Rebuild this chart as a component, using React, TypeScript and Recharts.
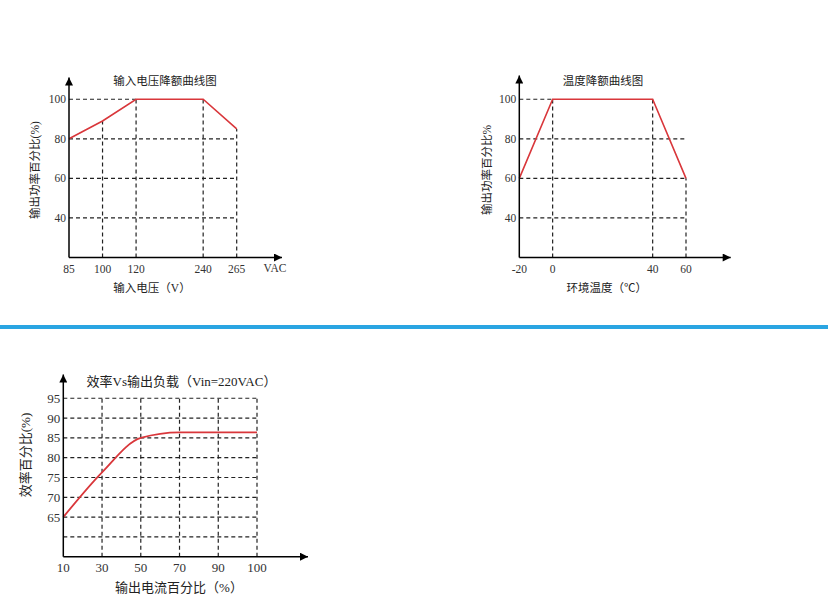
import React from "react";
import { LineChart, Line, XAxis, YAxis, ReferenceLine } from "recharts";

// input voltage derating (the axis is broken between 120 and 240)
const vinCats = ["85", "100", "120", "gap", "240", "265"];
const vinPower = [80, 89, 100, null, 100, 85];
const vinTicks = ["85", "100", "120", "240", "265"];

// ambient temperature derating (broken between 0 and 40)
const tempCats = ["-20", "0", "gap1", "gap2", "40", "60"];
const tempPower = [60, 100, null, null, 100, 60];
const tempTicks = ["-20", "0", "40", "60"];

const powerTicks = [40, 60, 80, 100];

// efficiency vs load, Vin = 220VAC
const loadCats = ["10", "30", "50", "70", "90", "100"];
const efficiency = [65, 76.3, 85, 86.4, 86.4, 86.4];
const effTicks = [65, 70, 75, 80, 85, 90, 95];
const effRows = [60, 65, 70, 75, 80, 85, 90, 95];

const FONT = "'Liberation Serif', 'Noto Sans CJK SC', serif";
const INK = "#222";
const RED = "#d9373b";
const DASH = "4 3";

function ArrowDefs({ id }: { id: string }) {
  return (
    <defs>
      <marker
        id={id}
        viewBox="0 0 10 10"
        refX="10"
        refY="5"
        markerWidth="9"
        markerHeight="8"
        markerUnits="userSpaceOnUse"
        orient="auto-start-reverse"
      >
        <path d="M0,0 L10,5 L0,10 z" fill="#000" />
      </marker>
    </defs>
  );
}

type DeratingProps = {
  id: string;
  left: number;
  top: number;
  cats: string[];
  vals: (number | null)[];
  xTicks: string[];
  yMax: number;
  margin: { top: number; right: number; bottom: number; left: number };
  padRight: number;
  title: string;
  titleX: number;
  xTitle: string;
  xTitleX: number;
  yTitle: string;
  yTitleX: number;
  unit?: string;
  unitX?: number;
};

function DeratingChart(p: DeratingProps) {
  const data = p.cats.map((c, i) => ({ x: c, y: p.vals[i] }));
  const real = data.filter((d) => d.y != null) as { x: string; y: number }[];
  const peak = Math.max(...real.map((d) => d.y));
  const rows = powerTicks.map((level) => ({
    level,
    end: level >= peak ? real.find((d) => d.y >= level)!.x : real[real.length - 1].x,
  }));
  const tickStyle = { fill: "#333", fontSize: 11.5, fontFamily: FONT };
  const axisLine = { stroke: "#000", strokeWidth: 1.5 };

  return (
    <div style={{ position: "absolute", left: p.left, top: p.top }}>
      <LineChart width={310} height={250} data={data} margin={p.margin}>
        <ArrowDefs id={p.id} />
        {rows.map((r) => (
          <ReferenceLine
            key={"h" + r.level}
            segment={[
              { x: real[0].x, y: r.level },
              { x: r.end, y: r.level },
            ]}
            stroke={INK}
            strokeWidth={1.2}
            strokeDasharray={DASH}
          />
        ))}
        {real.slice(1).map((d) => (
          <ReferenceLine
            key={"v" + d.x}
            segment={[
              { x: d.x, y: 20 },
              { x: d.x, y: d.y },
            ]}
            stroke={INK}
            strokeWidth={1.2}
            strokeDasharray={DASH}
          />
        ))}
        <XAxis
          dataKey="x"
          type="category"
          ticks={p.xTicks}
          interval={0}
          tickFormatter={(v) => (p.xTicks.includes(v) ? v : "")}
          padding={{ left: 0, right: p.padRight }}
          height={30}
          tickLine={false}
          tickSize={0}
          tickMargin={7}
          axisLine={{ ...axisLine, markerEnd: `url(#${p.id})` }}
          tick={tickStyle}
        />
        <YAxis
          type="number"
          domain={[20, p.yMax]}
          ticks={powerTicks}
          interval={0}
          allowDataOverflow
          width={40}
          tickLine={false}
          tickSize={0}
          tickMargin={3}
          axisLine={{ ...axisLine, markerStart: `url(#${p.id})` }}
          tick={tickStyle}
        />
        <Line
          type="linear"
          dataKey="y"
          stroke={RED}
          strokeWidth={1.6}
          dot={false}
          connectNulls
          isAnimationActive={false}
        />
        <text x={p.titleX} y={25} textAnchor="middle" fontSize={11.5} fill={INK} fontFamily={FONT}>
          {p.title}
        </text>
        <text x={p.xTitleX} y={231.5} textAnchor="middle" fontSize={11.5} fill={INK} fontFamily={FONT}>
          {p.xTitle}
        </text>
        <text
          x={p.yTitleX}
          y={110}
          textAnchor="middle"
          dominantBaseline="central"
          transform={`rotate(-90 ${p.yTitleX} 110)`}
          fontSize={11.5}
          fill={INK}
          fontFamily={FONT}
        >
          {p.yTitle}
        </text>
        {p.unit && (
          <text x={p.unitX} y={212} textAnchor="middle" fontSize={11.5} fill="#333" fontFamily={FONT}>
            {p.unit}
          </text>
        )}
      </LineChart>
    </div>
  );
}

function EfficiencyChart() {
  const data = loadCats.map((c, i) => ({ x: c, y: efficiency[i] }));
  const first = loadCats[0];
  const last = loadCats[loadCats.length - 1];
  const top = effRows[effRows.length - 1];
  const tickStyle = { fill: "#333", fontSize: 13, fontFamily: FONT };
  const axisLine = { stroke: "#000", strokeWidth: 1.5 };

  return (
    <div style={{ position: "absolute", left: 0, top: 340 }}>
      <LineChart
        width={330}
        height={270}
        data={data}
        margin={{ top: 34.5, right: 22, bottom: 23.3, left: 23.3 }}
      >
        <ArrowDefs id="arr3" />
        {effRows.map((r) => (
          <ReferenceLine
            key={"h" + r}
            segment={[
              { x: first, y: r },
              { x: last, y: r },
            ]}
            stroke={INK}
            strokeWidth={1.2}
            strokeDasharray={DASH}
          />
        ))}
        {loadCats.slice(1).map((c) => (
          <ReferenceLine
            key={"v" + c}
            segment={[
              { x: c, y: 55 },
              { x: c, y: top },
            ]}
            stroke={INK}
            strokeWidth={1.2}
            strokeDasharray={DASH}
          />
        ))}
        <XAxis
          dataKey="x"
          type="category"
          interval={0}
          padding={{ left: 0, right: 51 }}
          height={30}
          tickLine={false}
          tickSize={0}
          tickMargin={6}
          axisLine={{ ...axisLine, markerEnd: "url(#arr3)" }}
          tick={tickStyle}
        />
        <YAxis
          type="number"
          domain={[55, 101]}
          ticks={effTicks}
          interval={0}
          allowDataOverflow
          width={40}
          tickLine={false}
          tickSize={0}
          tickMargin={3}
          axisLine={{ ...axisLine, markerStart: "url(#arr3)" }}
          tick={tickStyle}
        />
        <Line
          type="monotone"
          dataKey="y"
          stroke={RED}
          strokeWidth={1.8}
          dot={false}
          isAnimationActive={false}
        />
        <text x={181.5} y={45.5} textAnchor="middle" fontSize={13} fill={INK} fontFamily={FONT}>
          效率Vs输出负载（Vin=220VAC）
        </text>
        <text x={179} y={252} textAnchor="middle" fontSize={13} fill={INK} fontFamily={FONT}>
          输出电流百分比（%）
        </text>
        <text
          x={25}
          y={115}
          textAnchor="middle"
          dominantBaseline="central"
          transform="rotate(-90 25 115)"
          fontSize={13}
          fill={INK}
          fontFamily={FONT}
        >
          效率百分比(%)
        </text>
      </LineChart>
    </div>
  );
}

export default function App() {
  return (
    <div style={{ position: "relative", width: 828, height: 614, background: "#fff", overflow: "hidden" }}>
      <style>{`body{margin:0;background:#fff}`}</style>
      <div style={{ position: "absolute", left: 0, top: 325, width: 828, height: 3.5, background: "#2aa5e2" }} />
      <DeratingChart
        id="arr1"
        left={0}
        top={60}
        cats={vinCats}
        vals={vinPower}
        xTicks={vinTicks}
        yMax={111}
        margin={{ top: 17.5, right: 28, bottom: 22.5, left: 29 }}
        padRight={45.3}
        title="输入电压降额曲线图"
        titleX={165}
        xTitle="输入电压（V）"
        xTitleX={152}
        yTitle="输出功率百分比(%)"
        yTitleX={35}
        unit="VAC"
        unitX={275}
      />
      <DeratingChart
        id="arr2"
        left={450}
        top={60}
        cats={tempCats}
        vals={tempPower}
        xTicks={tempTicks}
        yMax={112}
        margin={{ top: 15.5, right: 29.3, bottom: 22.5, left: 29.3 }}
        padRight={44.7}
        title="温度降额曲线图"
        titleX={153}
        xTitle="环境温度（℃）"
        xTitleX={156.7}
        yTitle="输出功率百分比%"
        yTitleX={37}
      />
      <EfficiencyChart />
    </div>
  );
}
